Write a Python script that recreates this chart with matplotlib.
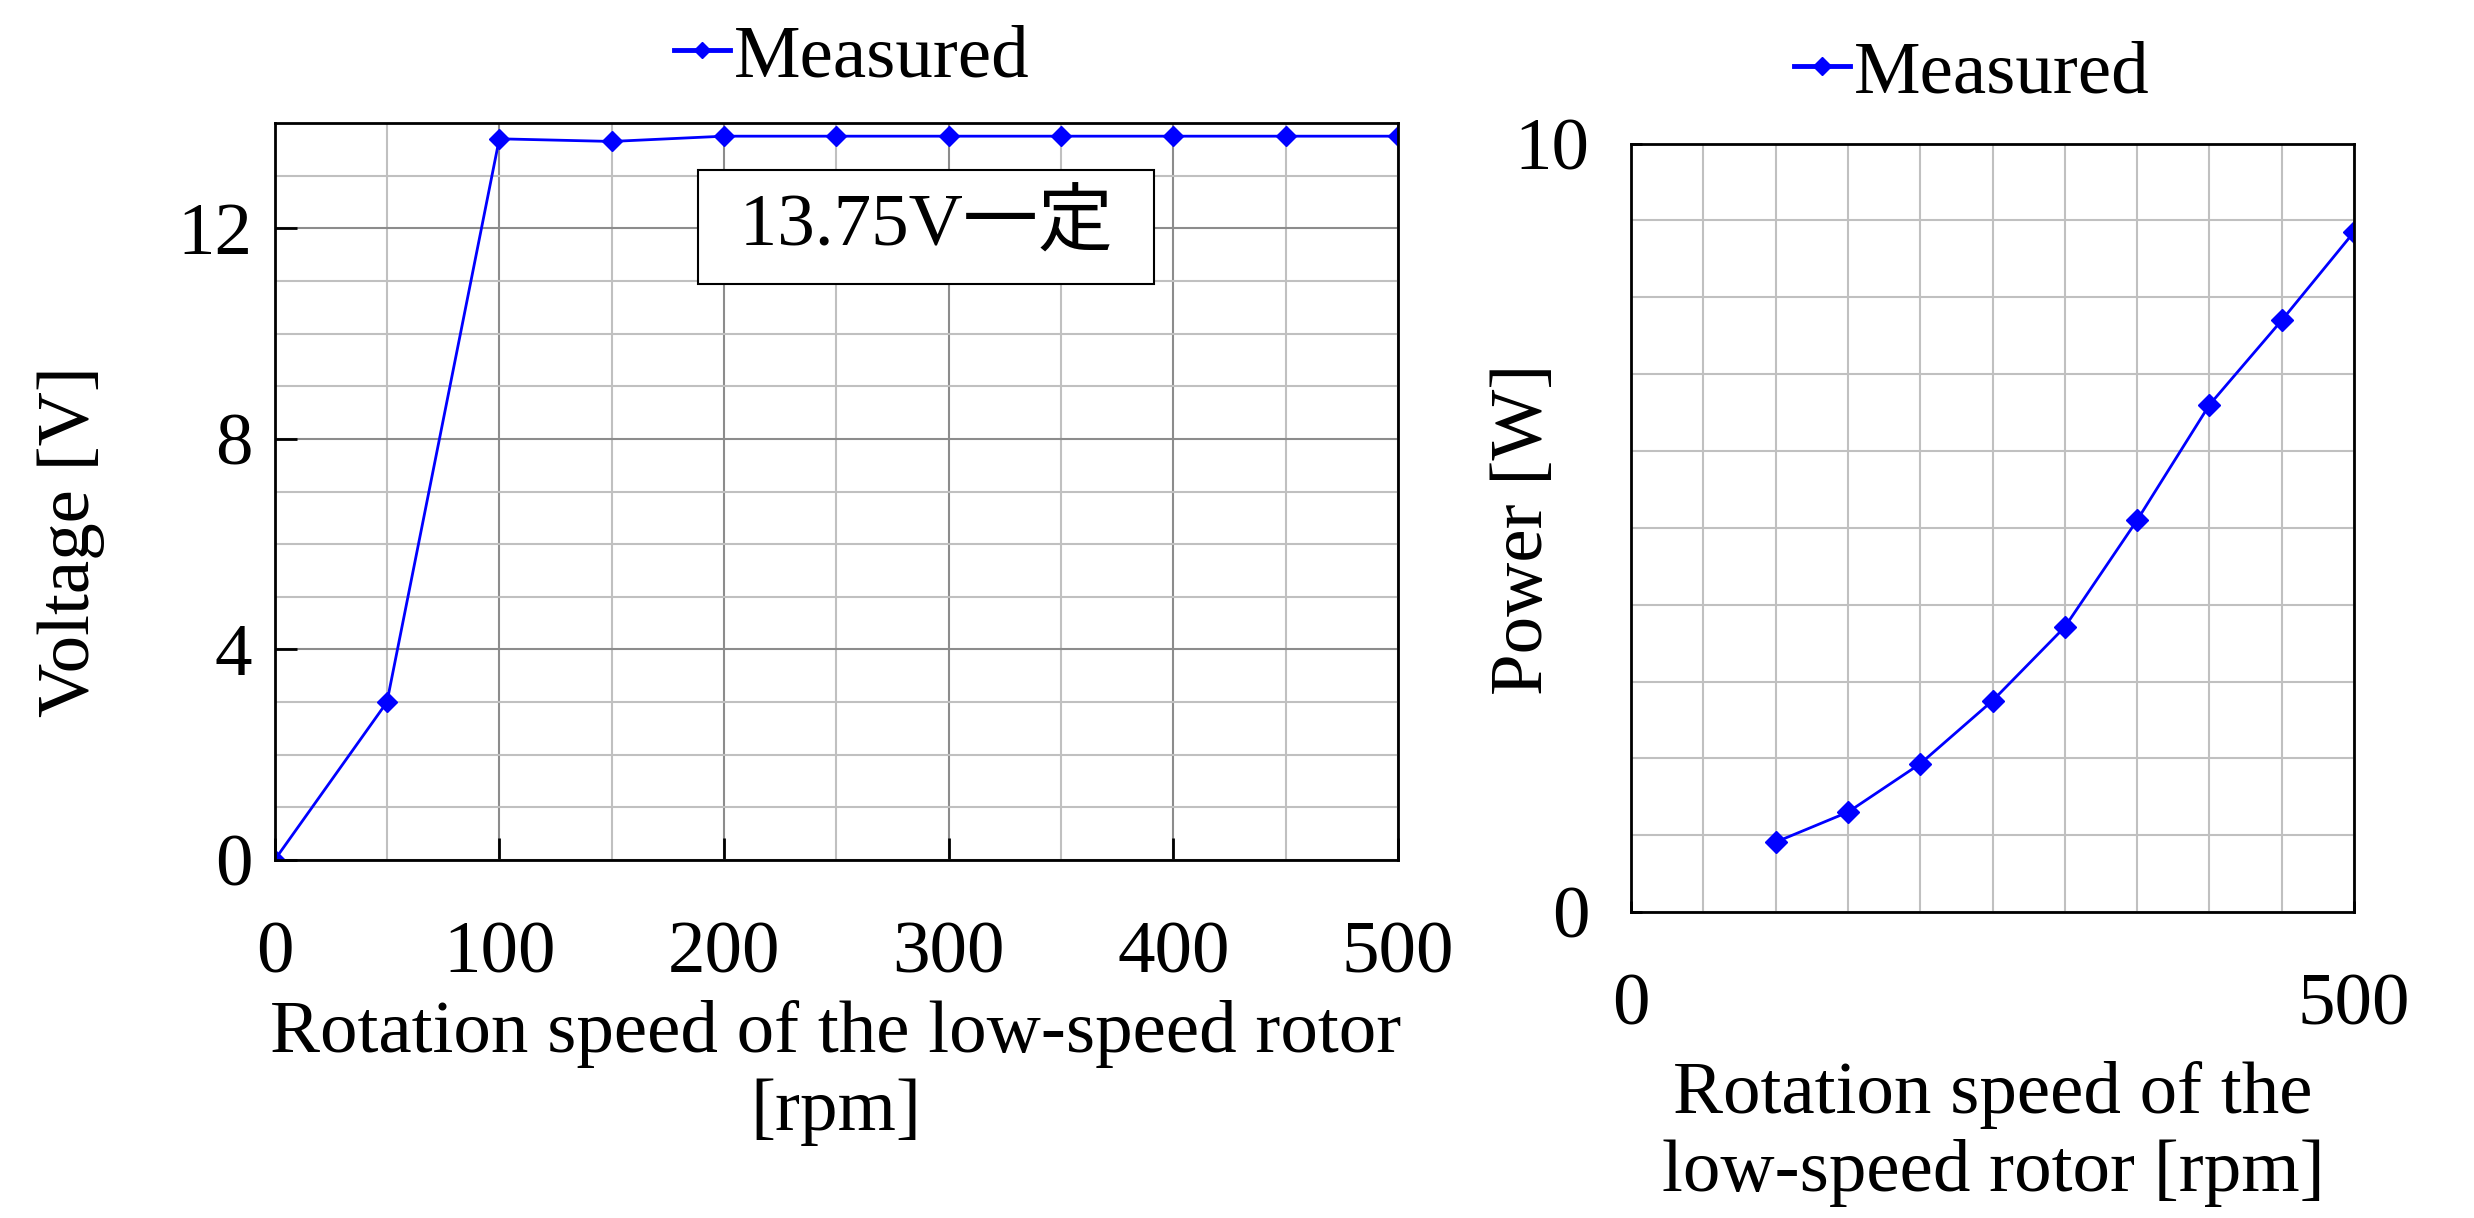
#!/usr/bin/env python3
"""
Voltage and power vs. rotation speed of the low-speed rotor (measured).
"""

import matplotlib
matplotlib.use("Agg")
import matplotlib.pyplot as plt
from matplotlib.ticker import MultipleLocator, FixedLocator

plt.rcParams['font.family'] = ['Liberation Serif', 'Noto Sans CJK JP', 'DejaVu Sans']

# Data
speed_v = [0, 50, 100, 150, 200, 250, 300, 350, 400, 450, 500]
voltage = [0.0, 3.0, 13.70, 13.65, 13.75, 13.75, 13.75, 13.75, 13.75, 13.75, 13.75]

speed_p = [100, 150, 200, 250, 300, 350, 400, 450, 500]
power = [0.91, 1.30, 1.93, 2.75, 3.71, 5.10, 6.60, 7.70, 8.85]

series_label = "Measured"
note_text = "13.75V一定"

FS = 54
BLUE = "#0000ff"
MAJOR_GRID = "#8c8c8c"
MINOR_GRID = "#c0c0c0"


def style_axes(ax):
    for sp in ax.spines.values():
        sp.set_linewidth(2.0)
        sp.set_color("black")


def add_legend(ax, cx, cy):
    leg = ax.legend(loc='center', bbox_to_anchor=(cx / 2474, 1 - cy / 1218),
                    bbox_transform=fig.transFigure, frameon=False, fontsize=FS,
                    handlelength=0.75, handletextpad=0.05, markerscale=0.8)
    for h in leg.legend_handles:
        h.set_linewidth(3.5)
    return leg


fig = plt.figure(figsize=(24.74, 12.18), dpi=100)

# ---- left: voltage ----
ax1 = fig.add_axes([0.111, 0.2939, 0.4541, 0.6051])
ax1.plot(speed_v, voltage, color=BLUE, lw=2, marker='D', markersize=10, label=series_label)
ax1.set_xlim(0, 500)
ax1.set_ylim(0, 14)
ax1.xaxis.set_major_locator(MultipleLocator(100))
ax1.xaxis.set_minor_locator(MultipleLocator(50))
ax1.yaxis.set_major_locator(FixedLocator([0, 4, 8, 12]))
ax1.yaxis.set_minor_locator(MultipleLocator(1))
ax1.grid(True, which='major', color=MAJOR_GRID, lw=1.5)
ax1.grid(True, which='minor', color=MINOR_GRID, lw=1.5)
ax1.set_axisbelow(True)
ax1.tick_params(which='major', direction='in', length=16, width=2, labelsize=FS)
ax1.tick_params(axis='x', which='major', pad=44)
ax1.tick_params(axis='y', which='major', pad=16)
ax1.tick_params(which='minor', length=0)
style_axes(ax1)

ax1.text(290, 12.02, " " + note_text + " ", fontsize=FS, ha='center', va='center',
         bbox=dict(boxstyle='square,pad=0.3', fc='white', ec='black', lw=1.5))

add_legend(ax1, 852, 58)

fig.text(71 / 2474, 1 - 541 / 1218, "Voltage [V]", rotation=90, fontsize=FS,
         ha='center', va='center')
fig.text(836 / 2474, 1 - 1073 / 1218, "Rotation speed of the low-speed rotor\n[rpm]",
         fontsize=FS, ha='center', va='center', linespacing=1.2)

# ---- right: power ----
ax2 = fig.add_axes([0.6593, 0.2512, 0.2922, 0.6309])
ax2.plot(speed_p, power, color=BLUE, lw=2, marker='D', markersize=11, label=series_label)
ax2.set_xlim(0, 500)
ax2.set_ylim(0, 10)
ax2.xaxis.set_major_locator(FixedLocator([0, 500]))
ax2.xaxis.set_minor_locator(MultipleLocator(50))
ax2.yaxis.set_major_locator(FixedLocator([0, 10]))
ax2.yaxis.set_minor_locator(MultipleLocator(1))
ax2.grid(True, which='both', color=MINOR_GRID, lw=1.5)
ax2.set_axisbelow(True)
ax2.tick_params(which='major', direction='in', length=8, width=2, labelsize=FS)
ax2.tick_params(axis='x', which='major', pad=44)
ax2.tick_params(axis='y', which='major', pad=30)
ax2.tick_params(which='minor', length=0)
style_axes(ax2)

add_legend(ax2, 1972, 74)

fig.text(1524 / 2474, 1 - 529 / 1218, "Power [W]", rotation=90, fontsize=FS,
         ha='center', va='center')
fig.text(1993 / 2474, 1 - 1134 / 1218, "Rotation speed of the\nlow-speed rotor [rpm]",
         fontsize=FS, ha='center', va='center', linespacing=1.2)

fig.savefig("out.png", dpi=100)
print("Plot saved to out.png")
